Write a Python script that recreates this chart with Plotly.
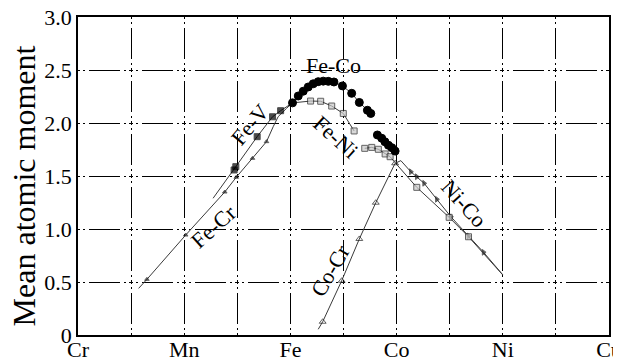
import plotly.graph_objects as go

# x axis: number of electrons (Cr=24 ... Cu=29)
x_tick_vals = [24, 24.5, 25, 25.5, 26, 26.5, 27, 27.5, 28, 28.5, 29]
x_tick_text = ["Cr", "", "Mn", "", "Fe", "", "Co", "", "Ni", "", "Cu"]
y_tick_vals = [0, 0.5, 1.0, 1.5, 2.0, 2.5, 3.0]
y_tick_text = ["0", "0.5", "1.0", "1.5", "2.0", "2.5", "3.0"]

# Fe-Co (two branches, gap = None)
feco_x = [26.02, 26.074, 26.121, 26.168, 26.215, 26.262, 26.309, 26.357, 26.41, 26.49, 26.577, 26.649, 26.725, 26.757,
          None, 26.819, 26.86, 26.89, 26.923, 26.955, 26.986]
feco_y = [2.19, 2.255, 2.30, 2.34, 2.37, 2.39, 2.395, 2.393, 2.387, 2.35, 2.28, 2.194, 2.12, 2.09,
          None, 1.887, 1.856, 1.823, 1.79, 1.767, 1.735]

# Fe-Ni (bcc branch, then fcc branch down to Ni)
feni_x = [26.02, 26.19, 26.285, 26.389, 26.498, 26.60,
          None, 26.70, 26.766, 26.828, 26.892, 26.939, 27.0, 27.19, 27.495, 27.677, 28.0]
feni_y = [2.19, 2.207, 2.205, 2.16, 2.09, 1.925,
          None, 1.761, 1.77, 1.752, 1.708, 1.682, 1.61, 1.393, 1.11, 0.927, 0.566]
feni_mark = [0, 1, 1, 1, 1, 1, 0, 1, 1, 1, 1, 1, 0, 1, 1, 1, 0]

# Fe-V
fev_x = [25.272, 25.47, 25.486, 25.687, 25.832, 25.908, 26.02]
fev_y = [1.29, 1.557, 1.588, 1.871, 2.059, 2.116, 2.19]
fev_mark = [0, 1, 1, 1, 1, 1, 0]

# Fe-Cr
fecr_x = [24.571, 24.649, 25.014, 25.382, 25.49, 25.643, 25.775, 25.838, 25.885, 25.964, 26.02]
fecr_y = [0.44, 0.525, 0.943, 1.349, 1.488, 1.667, 1.824, 1.965, 2.06, 2.139, 2.19]
fecr_mark = [0, 1, 1, 1, 1, 1, 1, 0, 0, 0, 0]

# Co-Cr
cocr_x = [26.262, 26.304, 26.483, 26.649, 26.804, 26.986]
cocr_y = [0.054, 0.125, 0.512, 0.906, 1.248, 1.62]
cocr_mark = [0, 1, 1, 1, 1, 1]

# Ni-Co
nico_x = [26.986, 27.04, 27.134, 27.19, 27.259, 27.379, 27.511, 27.677, 27.819, 28.002]
nico_y = [1.62, 1.645, 1.54, 1.493, 1.431, 1.28, 1.116, 0.934, 0.78, 0.566]
nico_mark = [0, 0, 1, 1, 1, 1, 1, 1, 1, 0]

labels = ["Fe-Co", "Fe-V", "Fe-Ni", "Fe-Cr", "Co-Cr", "Ni-Co"]
label_pos = {"Fe-Co": (26.41, 2.547, 0), "Fe-V": (25.618, 1.99, -50), "Fe-Ni": (26.42, 1.868, 42),
             "Fe-Cr": (25.278, 1.019, -42), "Co-Cr": (26.373, 0.613, -60), "Ni-Co": (27.637, 1.245, 48)}

LINE = dict(color="#3a3a3a", width=1)
FONT = "Liberation Serif, Times New Roman, serif"

fig = go.Figure()

def add(xs, ys, symbol, size, color, lcolor, marks=None):
    sizes = size if marks is None else [size if m else 0 for m in marks]
    fig.add_trace(go.Scatter(x=xs, y=ys, mode="lines+markers", line=LINE,
                             marker=dict(symbol=symbol, size=sizes, color=color,
                                         line=dict(color=lcolor, width=1)),
                             showlegend=False, hoverinfo="skip", cliponaxis=False))

add(fecr_x, fecr_y, "triangle-up", 4, "#222", "#222", fecr_mark)
add(fev_x, fev_y, "square", 6, "black", "black", fev_mark)
add(cocr_x, cocr_y, "triangle-up-open", 6, "#222", "#222", cocr_mark)
add(nico_x, nico_y, "triangle-right", 5, "#222", "#222", nico_mark)
add(feni_x, feni_y, "square", 6, "#c8c8c8", "#222", feni_mark)
add(feco_x, feco_y, "circle", 8, "black", "black")

for name in labels:
    x, y, ang = label_pos[name]
    fig.add_annotation(x=x, y=y, xref="x", yref="y", text=name, showarrow=False,
                       xanchor="center", yanchor="middle",
                       textangle=ang, font=dict(family=FONT, size=22, color="black"))

fig.add_annotation(x=-0.102, y=0.47, xref="paper", yref="paper", text="Mean atomic moment",
                   showarrow=False, textangle=-90, xanchor="center", yanchor="middle",
                   font=dict(family=FONT, size=32, color="black"))

GRID_DASH = "2px,3px,2px,4px,31px,4px,2px,3px,2px,0px"
common = dict(showgrid=True, gridcolor="black", gridwidth=1.2, griddash=GRID_DASH,
              showline=True, linecolor="black", linewidth=1.5, mirror=True, automargin=False,
              ticks="", zeroline=False, ticklabeloverflow="allow",
              tickfont=dict(family=FONT, size=22, color="black"))
fig.update_xaxes(range=[24, 29], tickvals=x_tick_vals, ticktext=x_tick_text,
                 ticklabelstandoff=-6, **common)
fig.update_yaxes(range=[0, 3], tickvals=y_tick_vals, ticktext=y_tick_text, **common)
# the page body adds an 8px offset, so the figure is 8px smaller and margins shifted
fig.update_layout(width=613, height=354, margin=dict(l=70, r=12, t=9, b=27),
                  plot_bgcolor="white", paper_bgcolor="white")
fig.write_html("out.html")
